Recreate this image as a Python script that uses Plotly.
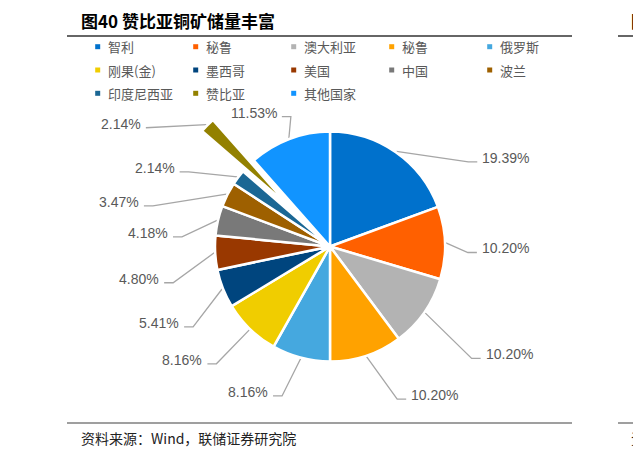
import math
import plotly.graph_objects as go

# data
countries = ["智利", "秘鲁", "澳大利亚", "秘鲁", "俄罗斯", "刚果(金)", "墨西哥",
             "美国", "中国", "波兰", "印度尼西亚", "赞比亚", "其他国家"]
shares = [19.39, 10.20, 10.20, 10.20, 8.16, 8.16, 5.41, 4.80, 4.18, 3.47, 2.14, 2.14, 11.53]

colors = ["#0071CC", "#FF6000", "#B3B3B3", "#FFA200", "#45A8DF", "#F0CD00", "#00457E",
          "#993800", "#797979", "#9E6000", "#1B6794", "#938100", "#1194FF"]
pulls = [0, 0, 0, 0, 0, 0, 0, 0, 0, 0, 0, 0.5, 0]

# label placement tweaks (angle shift in degrees, distance in radii)
label_nudge = [23.6, 4.3, 3.4, -5.4, 3.1, 0, -8.9, -9.9, -9.3, -13.9, -9.1, -10.5, 4.0]
label_reach = [1.41, 1.20, 1.57, 1.45, 1.365, 1.42, 1.38, 1.40, 1.29, 1.58, 1.39, 1.34, 1.18]

W, H = 633, 453
cx, cy, R = 330, 246.5, 115
max_pull = max(pulls)
half = R * (1 + max_pull)

GRAY = "#595959"
LINE = "#A6A6A6"

fig = go.Figure()

# pie labels must be unique, so the second 秘鲁 gets an invisible suffix
pie_labels = [c + "\u200b" * i for i, c in enumerate(countries)]
fig.add_trace(go.Pie(
    labels=pie_labels,
    values=shares,
    sort=False,
    direction="clockwise",
    rotation=0,
    pull=pulls,
    marker=dict(colors=colors, line=dict(color="white", width=2.5)),
    textinfo="none",
    hoverinfo="skip",
    showlegend=False,
    domain=dict(x=[(cx - half) / W, (cx + half) / W],
                y=[1 - (cy + half) / H, 1 - (cy - half) / H]),
))

# leader lines and percentage labels
total = sum(shares)
cum = 0
annotations = []
for i, v in enumerate(shares):
    mid = (cum + v / 2) / total * 360
    cum += v
    a = math.radians(mid)
    r0 = R * (1 + pulls[i]) + 1
    x0 = cx + r0 * math.sin(a)
    y0 = cy - r0 * math.cos(a)
    b = math.radians(mid + label_nudge[i])
    r1 = R * (label_reach[i] + pulls[i])
    x1 = cx + r1 * math.sin(b)
    y1 = cy - r1 * math.cos(b)
    side = 1 if math.sin(b) > 0 else -1
    x2 = x1 + side * 9
    fig.add_trace(go.Scatter(
        x=[x0, x1, x2], y=[y0, y1, y1], mode="lines",
        line=dict(color=LINE, width=1.3), hoverinfo="skip", showlegend=False,
    ))
    annotations.append(dict(
        x=x2 + side * 3, y=y1 - 4, xref="x", yref="y",
        text=f"{v:.2f}%", showarrow=False,
        xanchor="left" if side > 0 else "right", yanchor="middle",
        font=dict(family="Liberation Sans, Arial", size=14, color=GRAY),
    ))

# legend drawn by hand: 5 columns, small square swatches
leg_x0, leg_dx = 97.7, 98
leg_y0, leg_dy = 46.7, 23.3
lx = [leg_x0 + (i % 5) * leg_dx for i in range(len(countries))]
ly = [leg_y0 + (i // 5) * leg_dy for i in range(len(countries))]
fig.add_trace(go.Scatter(
    x=lx, y=ly, mode="markers",
    marker=dict(symbol="square", size=5, color=colors),
    hoverinfo="skip", showlegend=False,
))
for i, c in enumerate(countries):
    annotations.append(dict(
        x=lx[i] + 8, y=ly[i], xref="x", yref="y", text=c, showarrow=False,
        xanchor="left", yanchor="middle",
        font=dict(family="Noto Sans CJK SC", size=13, color=GRAY),
    ))

# title, source and the report's rules
annotations.append(dict(
    x=79, y=20, xref="x", yref="y", text="<b>图40 赞比亚铜矿储量丰富</b>",
    showarrow=False, xanchor="left", yanchor="middle",
    font=dict(family="Noto Sans CJK SC", size=17, color="black"),
))
annotations.append(dict(
    x=629, y=20, xref="x", yref="y", text="<b>图</b>",
    showarrow=False, xanchor="left", yanchor="middle",
    font=dict(family="Noto Sans CJK SC", size=17, color="black"),
))
annotations.append(dict(
    x=79, y=438, xref="x", yref="y", text="资料来源：Wind，联储证券研究院",
    showarrow=False, xanchor="left", yanchor="middle",
    font=dict(family="Noto Sans CJK SC", size=14, color="#222222"),
))
annotations.append(dict(
    x=629, y=438, xref="x", yref="y", text="资",
    showarrow=False, xanchor="left", yanchor="middle",
    font=dict(family="Noto Sans CJK SC", size=14, color="#222222"),
))

shapes = [
    dict(type="line", xref="x", yref="y", x0=67, x1=572, y0=36, y1=36,
         line=dict(color="#333333", width=1.5)),
    dict(type="line", xref="x", yref="y", x0=618, x1=633, y0=36, y1=36,
         line=dict(color="#333333", width=1.5)),
    dict(type="line", xref="x", yref="y", x0=67, x1=572, y0=423, y1=423,
         line=dict(color="#7F7F7F", width=1.5)),
    dict(type="line", xref="x", yref="y", x0=618, x1=633, y0=423, y1=423,
         line=dict(color="#7F7F7F", width=1.5)),
]

fig.update_layout(
    width=W, height=H,
    margin=dict(l=0, r=0, t=0, b=0),
    paper_bgcolor="white",
    plot_bgcolor="rgba(0,0,0,0)",
    xaxis=dict(range=[0, W], visible=False, fixedrange=True),
    yaxis=dict(range=[H, 0], visible=False, fixedrange=True),
    annotations=annotations,
    shapes=shapes,
    showlegend=False,
)

# page body has a default 8px margin; drop it so the figure fills the window
fig.write_html(
    "out.html",
    config={"displayModeBar": False},
    post_script="document.body.style.margin='0';document.body.style.overflow='hidden';",
)
